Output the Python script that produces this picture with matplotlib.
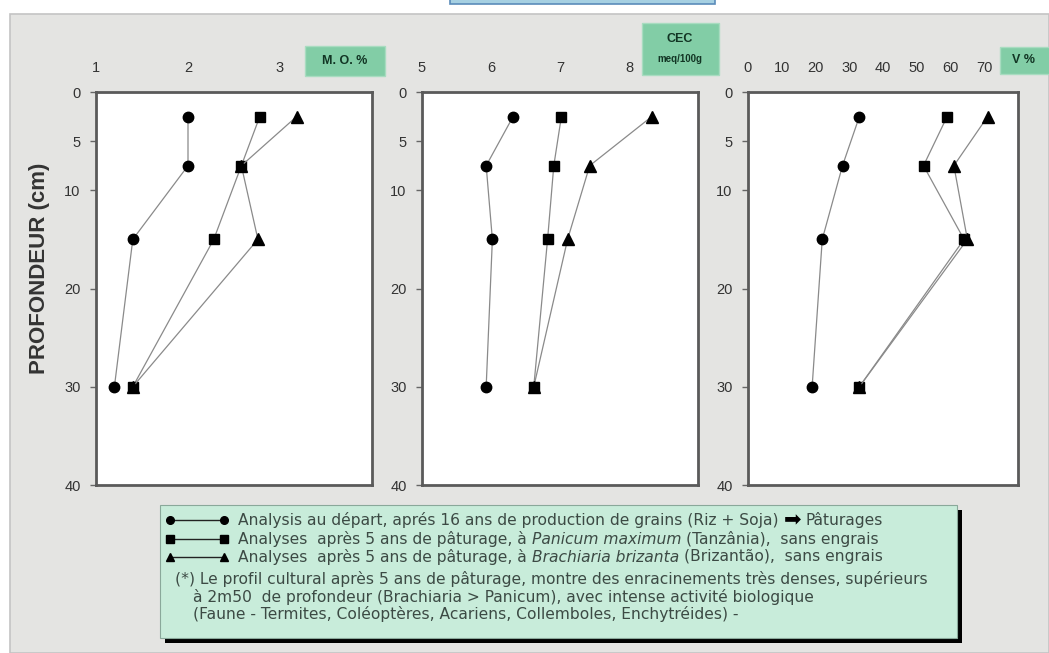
import numpy as np
import matplotlib
matplotlib.use("Agg")
import matplotlib.pyplot as plt
from matplotlib.patches import Rectangle

plt.rcParams['font.family'] = ['Liberation Sans', 'DejaVu Sans']

# profondeur des prélèvements (cm)
depth = [2.5, 7.5, 15, 30]

# matière organique (%)
mo_depart = [2.0, 2.0, 1.4, 1.2]
mo_panicum = [2.78, 2.58, 2.28, 1.4]
mo_brachiaria = [3.18, 2.58, 2.76, 1.4]

# CEC (meq/100g)
cec_depart = [6.32, 5.93, 6.02, 5.93]
cec_panicum = [7.02, 6.91, 6.82, 6.62]
cec_brachiaria = [8.33, 7.43, 7.11, 6.62]

# saturation en bases V (%)
v_depart = [33, 28, 22, 19]
v_panicum = [59, 52, 64, 33]
v_brachiaria = [71, 61, 65, 33]

y_ticks = [0, 5, 10, 20, 30, 40]
mo_ticks = [1, 2, 3]
cec_ticks = [5, 6, 7, 8]
v_ticks = [0, 10, 20, 30, 40, 50, 60, 70]

legend_lines = [
    [("Analysis au départ, aprés 16 ans de production de grains (Riz + Soja)", "normal"),
     ("➡", "arrow"), ("Pâturages", "normal")],
    [("Analyses  après 5 ans de pâturage, à", "normal"), ("Panicum maximum", "italic"),
     ("(Tanzânia),  sans engrais", "normal")],
    [("Analyses  après 5 ans de pâturage, à", "normal"), ("Brachiaria brizanta", "italic"),
     ("(Brizantão),  sans engrais", "normal")],
]
note_lines = [
    "(*) Le profil cultural après 5 ans de pâturage, montre des enracinements très denses, supérieurs",
    "à 2m50  de profondeur (Brachiaria > Panicum), avec intense activité biologique",
    "(Faune - Termites, Coléoptères, Acariens, Collemboles, Enchytréides) -",
]

W, H = 1049, 653
fig = plt.figure(figsize=(W / 100, H / 100), dpi=100)
fig.patch.set_facecolor('white')

# pixel-space background layer
bg = fig.add_axes([0, 0, 1, 1], zorder=-1)
bg.set_xlim(0, W)
bg.set_ylim(H, 0)
bg.axis('off')
bg.add_patch(Rectangle((10, 14), W - 10, H - 14, fc='#e4e4e2', ec='#c4c4c4', lw=1.2))
bg.add_patch(Rectangle((450, -3), 265, 7, fc='#a6d0e2', ec='#5b8cba', lw=1.2))

box_green = '#82cda6'
txt_green = '#123524'
bg.add_patch(Rectangle((305, 46), 80, 30, fc=box_green, ec='#a8dcc0', lw=1))
bg.text(345, 61, "M. O. %", ha='center', va='center', fontsize=9, fontweight='bold', color=txt_green)
bg.add_patch(Rectangle((642, 23), 77, 52, fc=box_green, ec='#a8dcc0', lw=1))
bg.text(680, 39, "CEC", ha='center', va='center', fontsize=9, fontweight='bold', color=txt_green)
bg.text(680, 59, "meq/100g", ha='center', va='center', fontsize=7, fontweight='bold', color=txt_green)
bg.add_patch(Rectangle((1000, 47), 52, 27, fc=box_green, ec='#a8dcc0', lw=1))
bg.text(1024, 60, "V %", ha='center', va='center', fontsize=9, fontweight='bold', color=txt_green)

# legend box with drop shadow
bg.add_patch(Rectangle((165, 510), 797, 133, fc='black', ec='none'))
bg.add_patch(Rectangle((160, 505), 797, 133, fc='#c8ecda', ec='#8aa89a', lw=0.8))

renderer = fig.canvas.get_renderer()
txt_color = '#3c4a44'
fs = 11.2
legend_family = ['DejaVu Sans']


def text_width(s, **kw):
    t = bg.text(0, 0, s, fontsize=fs, family=legend_family, **kw)
    w = t.get_window_extent(renderer).width
    t.remove()
    return w


space = text_width("a a") - text_width("aa")

row_y = [520, 539, 557]
markers = ['o', 's', '^']
for y, mk, parts in zip(row_y, markers, legend_lines):
    bg.plot([170, 224], [y, y], color='#222222', lw=1, marker=mk, ms=5.5,
            mfc='black', mec='black', solid_capstyle='butt')
    x = 238
    for s, kind in parts:
        if kind == "arrow":
            t = bg.text(x, y, s, fontsize=15, color='black', va='center',
                        family=['DejaVu Sans'])
        else:
            t = bg.text(x, y, s, fontsize=fs, color=txt_color, va='center',
                        style=kind, family=legend_family)
        x += t.get_window_extent(renderer).width + space

for y, x0, s in zip([579, 597, 614], [175, 193, 193], note_lines):
    bg.text(x0, y, s, fontsize=fs, color=txt_color, va='center', family=legend_family)

# the three depth profiles
panels = [
    (96, 276, (1, 4), mo_ticks, (mo_depart, mo_panicum, mo_brachiaria)),
    (422, 276, (5, 9), cec_ticks, (cec_depart, cec_panicum, cec_brachiaria)),
    (748, 270, (0, 80), v_ticks, (v_depart, v_panicum, v_brachiaria)),
]
top_px, bottom_px = 92, 485
for left, width, xlim, xt, series in panels:
    ax = fig.add_axes([left / W, 1 - bottom_px / H, width / W, (bottom_px - top_px) / H])
    ax.set_facecolor('white')
    for vals, mk, ms in zip(series, ['o', 's', '^'], [7.5, 7, 8]):
        ax.plot(vals, depth, color='#8a8a8a', lw=0.9, marker=mk, ms=ms,
                mfc='black', mec='black', zorder=3)
    ax.set_xlim(*xlim)
    ax.set_ylim(40, 0)
    ax.set_xticks(xt)
    ax.set_yticks(y_ticks)
    ax.xaxis.tick_top()
    ax.tick_params(axis='x', length=0, pad=12, labelsize=10.5, labelcolor='#333333')
    ax.tick_params(axis='y', length=4, width=1, color='#666666', pad=7,
                   labelsize=10.5, labelcolor='#333333')
    for sp in ax.spines.values():
        sp.set_color('#5a5a5a')
        sp.set_linewidth(2)

fig.text(40 / W, 1 - 268 / H, "PROFONDEUR (cm)", rotation=90, ha='center', va='center',
         fontsize=16, fontweight='bold', color='#333333')

fig.savefig("out.png", dpi=100)
